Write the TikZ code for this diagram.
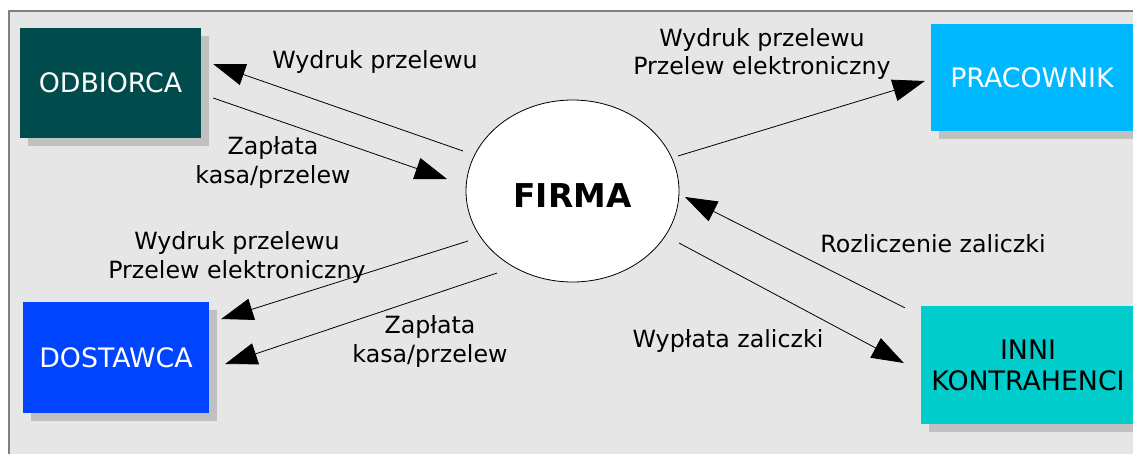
\documentclass[tikz,border=0pt]{standalone}
\usepackage{fontspec}
\setmainfont{DejaVu Sans}
\usepackage{xcolor}
\usetikzlibrary{arrows.meta,shapes.geometric,shadows}

\definecolor{odbcol}{HTML}{004B4B}
\definecolor{praccol}{HTML}{00B8FF}
\definecolor{dostcol}{HTML}{0044FF}
\definecolor{innicol}{HTML}{00CCCC}
\definecolor{bggray}{HTML}{E6E6E6}
\definecolor{shadowgray}{HTML}{C0C0C0}
\definecolor{framegray}{HTML}{808080}

\begin{document}
\begin{tikzpicture}[
    x=1pt, y=-1pt,
    block/.style={rectangle, inner sep=0pt, align=center, text=white, fill=#1,
                  font=\fontsize{26.8}{31}\selectfont,
                  drop shadow={shadow xshift=8pt, shadow yshift=-8pt, fill=shadowgray, opacity=1}},
    block/.default=white,
    flow/.style={-{Triangle[length=32pt, width=22pt]}, line width=0.8pt},
    lbl/.style={font=\fontsize{23.7}{28.5}\selectfont, align=center},
]
    % Canvas and frame
    \useasboundingbox (0,0) rectangle (1133,453);
    \clip (0,0) rectangle (1133,453);
    \fill[white] (0,0) rectangle (1133,453);
    \fill[bggray] (9,11) rectangle (1140,460);
    \draw[framegray, line width=1.5pt] (9,460) -- (9,11) -- (1140,11);

    % Partners
    \node[block=odbcol, minimum width=181pt, minimum height=110pt] (odb) at (110.5,83) {ODBIORCA};
    \node[block=praccol, minimum width=202pt, minimum height=107pt] (prac) at (1032,77.5) {PRACOWNIK};
    \node[block=dostcol, minimum width=186pt, minimum height=111pt] (dost) at (116,357.5) {DOSTAWCA};
    \node[block=innicol, text=black, minimum width=214pt, minimum height=118pt] (inni) at (1028,365)
        {INNI\\KONTRAHENCI};

    % Company
    \node[ellipse, draw, fill=white, line width=0.8pt, inner sep=0pt,
          minimum width=213pt, minimum height=182pt,
          font=\fontsize{32.8}{38}\selectfont\bfseries] (firma) at (572.5,191)
        {\raisebox{-5pt}[\height][0pt]{FIRMA}};

    % Flows
    \draw[flow] ([shift={(-109.5,-40)}]firma.center) -- ([shift={(12,-19)}]odb.east);
    \draw[flow] ([shift={(12,15)}]odb.east) -- ([shift={(-125.5,-12)}]firma.center);
    \draw[flow] ([shift={(105.5,-35)}]firma.center) -- ([shift={(-6,3.5)}]prac.west);
    \draw[flow] ([shift={(-16,2)}]inni.north west) -- ([shift={(112.5,6)}]firma.center);
    \draw[flow] ([shift={(106.5,52)}]firma.center) -- ([shift={(-17,-2)}]inni.west);
    \draw[flow] ([shift={(-104.5,50)}]firma.center) -- ([shift={(12,-38.5)}]dost.east);
    \draw[flow] ([shift={(-75.5,82)}]firma.center) -- ([shift={(16,6.5)}]dost.east);

    % Flow labels
    \node[lbl] (lodb1) at (375,62) {Wydruk przelewu};
    \node[lbl] (lodb2) at (273,162.5) {Zapłata\\kasa/przelew};
    \node[lbl] (lprac) at (762,54) {Wydruk przelewu\\Przelew elektroniczny};
    \node[lbl] (ldost1) at (237,257.5) {Wydruk przelewu\\Przelew elektroniczny};
    \node[lbl] (ldost2) at (430,341.5) {Zapłata\\kasa/przelew};
    \node[lbl] (lrozl) at (933,244) {Rozliczenie zaliczki};
    \node[lbl] (lwypl) at (728,341) {Wypłata zaliczki};
\end{tikzpicture}
\end{document}
